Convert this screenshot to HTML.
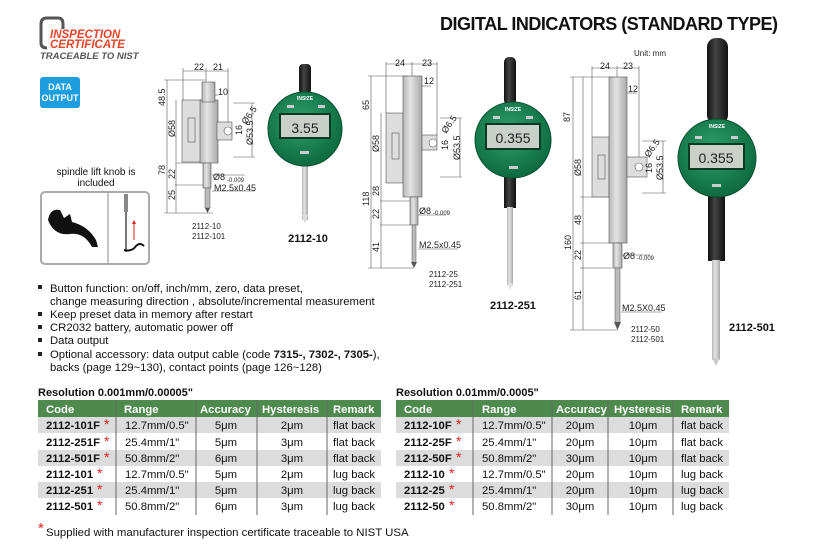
<!DOCTYPE html>
<html><head><meta charset="utf-8"><style>
html,body{margin:0;padding:0;background:#fff}
svg{display:block}
text{font-family:"Liberation Sans",Arial,sans-serif}
</style></head><body>
<svg width="816" height="548" viewBox="0 0 816 548" xmlns="http://www.w3.org/2000/svg">
<defs>
<linearGradient id="met" x1="0" x2="1"><stop offset="0" stop-color="#b8b8b8"/><stop offset=".4" stop-color="#e4e4e4"/><stop offset="1" stop-color="#a8a8a8"/></linearGradient>
<linearGradient id="blk" x1="0" x2="1"><stop offset="0" stop-color="#111"/><stop offset=".4" stop-color="#444"/><stop offset="1" stop-color="#111"/></linearGradient>
<radialGradient id="grn" cx=".45" cy=".4" r=".6"><stop offset="0" stop-color="#2fa06a"/><stop offset="1" stop-color="#0d6a40"/></radialGradient>
</defs>

<!-- Logo -->
<path d="M41 44 V24 Q41 18 47 18 H58 Q63 18 63 24 V29" fill="none" stroke="#555" stroke-width="3"/>
<path d="M41 40 V43 Q41 48 47 48" fill="none" stroke="#555" stroke-width="3"/>
<text x="50" y="38" font-size="11.5" font-weight="bold" font-style="italic" fill="#e8452a">INSPECTION</text>
<text x="50" y="48" font-size="11.5" font-weight="bold" font-style="italic" fill="#e8452a">CERTIFICATE</text>
<text x="40" y="59" font-size="9.5" font-weight="bold" font-style="italic" fill="#555">TRACEABLE TO NIST</text>
<rect x="40" y="77" width="40" height="31" rx="3" fill="#1e9de0"/>
<text x="60" y="90" font-size="9" font-weight="bold" fill="#fff" text-anchor="middle">DATA</text>
<text x="60" y="101" font-size="9" font-weight="bold" fill="#fff" text-anchor="middle">OUTPUT</text>

<text x="440" y="30" font-size="18" font-weight="bold" fill="#111" textLength="338">DIGITAL INDICATORS (STANDARD TYPE)</text>
<text x="634" y="56" font-size="8" fill="#222">Unit: mm</text>

<!-- spindle lift knob -->
<text x="96" y="175" font-size="10" fill="#111" text-anchor="middle">spindle lift knob is</text>
<text x="96" y="186" font-size="10" fill="#111" text-anchor="middle">included</text>
<rect x="41" y="192" width="108" height="72" rx="4" fill="#fff" stroke="#aaa" stroke-width="2"/>
<line x1="108" y1="193" x2="108" y2="263" stroke="#888"/>
<path d="M48 220 Q50 208 60 210 L64 218 L70 214 L72 222 Q88 226 96 240 L98 247 L92 247 Q84 232 70 234 Q54 236 48 220Z" fill="#111"/>
<rect x="124" y="194" width="4" height="18" fill="#888"/>
<rect x="125" y="212" width="2" height="40" fill="#777"/>
<line x1="134" y1="240" x2="134" y2="222" stroke="#d22" stroke-width="1"/>
<path d="M132 224 L134 220 L136 224Z" fill="#d22"/>
<path d="M124 250 Q132 252 136 246 Q140 242 144 246" fill="none" stroke="#111" stroke-width="2"/>

<!-- Drawing 1 -->
<g stroke="#555" stroke-width=".6" fill="none">
<line x1="167" y1="80" x2="167" y2="213"/><line x1="176" y1="100" x2="176" y2="162"/>
<line x1="176" y1="163" x2="176" y2="213"/><line x1="164" y1="80" x2="205" y2="80"/>
<line x1="164" y1="213" x2="213" y2="213"/><line x1="175" y1="163" x2="204" y2="163"/><line x1="175" y1="185" x2="204" y2="185"/>
<line x1="183" y1="71" x2="228" y2="71"/><line x1="183" y1="68" x2="183" y2="100"/><line x1="206" y1="68" x2="206" y2="84"/><line x1="228" y1="68" x2="228" y2="125"/>
<line x1="233" y1="103" x2="255" y2="103"/><line x1="233" y1="157" x2="255" y2="157"/><line x1="252" y1="103" x2="252" y2="157"/>
<line x1="210" y1="95" x2="218" y2="95"/><line x1="212" y1="175" x2="245" y2="175"/><line x1="212" y1="191" x2="255" y2="191"/>
</g>
<rect x="182" y="100" width="19" height="62" fill="#ddd" stroke="#555" stroke-width=".6"/>
<rect x="188" y="118" width="7" height="24" fill="none" stroke="#555" stroke-width=".6"/>
<rect x="200" y="100" width="18" height="63" fill="url(#met)" stroke="#555" stroke-width=".6"/>
<rect x="202" y="82" width="13" height="20" fill="url(#met)" stroke="#555" stroke-width=".6"/>
<rect x="217" y="122" width="15" height="18" fill="#ddd" stroke="#555" stroke-width=".6"/>
<circle cx="228" cy="131" r="4" fill="#fff" stroke="#555" stroke-width=".6"/>
<rect x="203" y="163" width="8" height="25" fill="url(#met)" stroke="#555" stroke-width=".6"/>
<rect x="205" y="188" width="5" height="20" fill="#bbb" stroke="#555" stroke-width=".5"/>
<path d="M205 208 L210 208 L207.5 213Z" fill="#555"/>
<g font-size="9" fill="#222">
<text x="194" y="70">22</text><text x="213" y="70">21</text><text x="218" y="95">10</text>
<text x="213" y="180">Ø8</text><text x="227" y="182" font-size="6">-0.009</text><text x="214" y="191">M2.5x0.45</text>
<text x="165" y="106" transform="rotate(-90 165 106)">48.5</text>
<text x="175" y="137" transform="rotate(-90 175 137)">Ø58</text>
<text x="165" y="175" transform="rotate(-90 165 175)">78</text>
<text x="175" y="179" transform="rotate(-90 175 179)">22</text>
<text x="175" y="200" transform="rotate(-90 175 200)">25</text>
<text x="246" y="125" transform="rotate(-55 246 125)">Ø6.5</text>
<text x="242" y="135" transform="rotate(-90 242 135)">16</text>
<text x="253" y="145" transform="rotate(-90 253 145)">Ø53.5</text>
</g>
<text x="192" y="229" font-size="8" fill="#222">2112-10</text>
<text x="192" y="239" font-size="8" fill="#222">2112-101</text>

<!-- Dial 1 -->
<rect x="299" y="64" width="12" height="30" rx="4" fill="url(#blk)"/>
<rect x="302" y="160" width="6" height="60" fill="url(#met)"/>
<path d="M302 215 L308 215 L305 224Z" fill="#ddd"/>
<circle cx="305" cy="129" r="37" fill="url(#grn)" stroke="#0a5030" stroke-width="1"/>
<rect x="279" y="113" width="52" height="26" fill="#0a3a22"/>
<rect x="281" y="115" width="48" height="22" fill="#c8d0c8"/>
<text x="305" y="133" font-size="14" fill="#222" text-anchor="middle">3.55</text>
<rect x="287" y="105" width="7" height="3" fill="#ccc"/><rect x="318" y="105" width="7" height="3" fill="#ccc"/>
<rect x="300" y="151" width="9" height="3" fill="#ccc"/>
<text x="305" y="100" font-size="5" fill="#fff" text-anchor="middle" font-weight="bold">INSIZE</text>
<text x="308" y="242" font-size="11" font-weight="bold" fill="#111" text-anchor="middle">2112-10</text>

<!-- Drawing 2 -->
<g stroke="#555" stroke-width=".6" fill="none">
<line x1="371" y1="76" x2="371" y2="268"/><line x1="381" y1="113" x2="381" y2="183"/><line x1="381" y1="183" x2="381" y2="268"/>
<line x1="368" y1="76" x2="408" y2="76"/><line x1="368" y1="268" x2="414" y2="268"/>
<line x1="380" y1="201" x2="410" y2="201"/><line x1="380" y1="225" x2="410" y2="225"/>
<line x1="386" y1="64" x2="437" y2="64"/><line x1="386" y1="62" x2="386" y2="113"/><line x1="412" y1="62" x2="412" y2="80"/><line x1="437" y1="62" x2="437" y2="135"/>
<line x1="440" y1="118" x2="462" y2="118"/><line x1="440" y1="177" x2="462" y2="177"/><line x1="460" y1="118" x2="460" y2="177"/>
<line x1="418" y1="86" x2="431" y2="86"/><line x1="418" y1="215" x2="446" y2="215"/><line x1="418" y1="249" x2="458" y2="249"/>
</g>
<rect x="386" y="113" width="17" height="70" fill="#ddd" stroke="#555" stroke-width=".6"/>
<rect x="392" y="133" width="7" height="26" fill="none" stroke="#555" stroke-width=".6"/>
<rect x="403" y="76" width="19" height="121" fill="url(#met)" stroke="#555" stroke-width=".6"/>
<rect x="422" y="135" width="15" height="15" fill="#ddd" stroke="#555" stroke-width=".6"/>
<circle cx="433" cy="143" r="4" fill="#fff" stroke="#555" stroke-width=".6"/>
<rect x="410" y="197" width="8" height="28" fill="url(#met)" stroke="#555" stroke-width=".6"/>
<rect x="412" y="225" width="4" height="38" fill="#bbb" stroke="#555" stroke-width=".5"/>
<path d="M411 262 L417 262 L414 268Z" fill="#555"/>
<g font-size="9" fill="#222">
<text x="395" y="66">24</text><text x="422" y="66">23</text><text x="424" y="84">12</text>
<text x="419" y="214">Ø8</text><text x="433" y="215" font-size="6">-0.009</text><text x="419" y="248">M2.5x0.45</text>
<text x="369" y="110" transform="rotate(-90 369 110)">65</text>
<text x="379" y="152" transform="rotate(-90 379 152)">Ø58</text>
<text x="379" y="196" transform="rotate(-90 379 196)">28</text>
<text x="369" y="206" transform="rotate(-90 369 206)">118</text>
<text x="379" y="219" transform="rotate(-90 379 219)">22</text>
<text x="379" y="252" transform="rotate(-90 379 252)">41</text>
<text x="446" y="134" transform="rotate(-55 446 134)">Ø6.5</text>
<text x="448" y="150" transform="rotate(-90 448 150)">16</text>
<text x="460" y="160" transform="rotate(-90 460 160)">Ø53.5</text>
</g>
<text x="429" y="277" font-size="8" fill="#222">2112-25</text>
<text x="429" y="287" font-size="8" fill="#222">2112-251</text>

<!-- Dial 2 -->
<rect x="504" y="57" width="12" height="48" rx="5" fill="url(#blk)"/>
<rect x="504" y="175" width="12" height="33" fill="url(#blk)"/>
<rect x="507" y="207" width="6" height="78" fill="url(#met)"/>
<path d="M507 283 L513 283 L510 290Z" fill="#ddd"/>
<circle cx="513" cy="140" r="38" fill="url(#grn)" stroke="#0a5030" stroke-width="1"/>
<rect x="485" y="123" width="56" height="27" fill="#0a3a22"/>
<rect x="487" y="125" width="52" height="23" fill="#c8d0c8"/>
<text x="513" y="143" font-size="14" fill="#222" text-anchor="middle">0.355</text>
<rect x="493" y="116" width="7" height="3" fill="#ccc"/><rect x="526" y="116" width="7" height="3" fill="#ccc"/>
<rect x="509" y="166" width="9" height="3" fill="#ccc"/>
<text x="513" y="111" font-size="5" fill="#fff" text-anchor="middle" font-weight="bold">INSIZE</text>
<text x="513" y="309" font-size="11" font-weight="bold" fill="#111" text-anchor="middle">2112-251</text>

<!-- Drawing 3 -->
<g stroke="#555" stroke-width=".6" fill="none">
<line x1="573" y1="77" x2="573" y2="330"/><line x1="583" y1="77" x2="583" y2="330"/>
<line x1="570" y1="77" x2="614" y2="77"/><line x1="570" y1="330" x2="618" y2="330"/>
<line x1="580" y1="197" x2="610" y2="197"/><line x1="580" y1="243" x2="612" y2="243"/><line x1="580" y1="268" x2="612" y2="268"/>
<line x1="592" y1="68" x2="639" y2="68"/><line x1="592" y1="66" x2="592" y2="137"/><line x1="617" y1="66" x2="617" y2="80"/><line x1="639" y1="66" x2="639" y2="160"/>
<line x1="642" y1="141" x2="666" y2="141"/><line x1="642" y1="193" x2="666" y2="193"/><line x1="663" y1="141" x2="663" y2="193"/>
<line x1="623" y1="93" x2="637" y2="93"/><line x1="622" y1="255" x2="650" y2="255"/><line x1="621" y1="312" x2="662" y2="312"/>
</g>
<rect x="592" y="137" width="17" height="60" fill="#ddd" stroke="#555" stroke-width=".6"/>
<rect x="598" y="155" width="7" height="24" fill="none" stroke="#555" stroke-width=".6"/>
<rect x="609" y="77" width="18" height="166" fill="url(#met)" stroke="#555" stroke-width=".6"/>
<rect x="627" y="157" width="20" height="20" fill="#ddd" stroke="#555" stroke-width=".6"/>
<circle cx="639" cy="167" r="4" fill="#fff" stroke="#555" stroke-width=".6"/>
<rect x="613" y="243" width="9" height="25" fill="url(#met)" stroke="#555" stroke-width=".6"/>
<rect x="615" y="268" width="5" height="55" fill="#bbb" stroke="#555" stroke-width=".5"/>
<path d="M614 322 L621 322 L617.5 330Z" fill="#555"/>
<g font-size="9" fill="#222">
<text x="600" y="69">24</text><text x="623" y="69">23</text><text x="628" y="92">12</text>
<text x="623" y="259">Ø8</text><text x="637" y="260" font-size="6">-0.009</text><text x="622" y="311">M2.5X0.45</text>
<text x="570" y="122" transform="rotate(-90 570 122)">87</text>
<text x="581" y="176" transform="rotate(-90 581 176)">Ø58</text>
<text x="581" y="225" transform="rotate(-90 581 225)">48</text>
<text x="571" y="250" transform="rotate(-90 571 250)">160</text>
<text x="581" y="260" transform="rotate(-90 581 260)">22</text>
<text x="581" y="300" transform="rotate(-90 581 300)">61</text>
<text x="649" y="158" transform="rotate(-55 649 158)">Ø6.5</text>
<text x="652" y="173" transform="rotate(-90 652 173)">16</text>
<text x="663" y="180" transform="rotate(-90 663 180)">Ø53.5</text>
</g>
<text x="631" y="332" font-size="8" fill="#222">2112-50</text>
<text x="631" y="342" font-size="8" fill="#222">2112-501</text>

<!-- Dial 3 -->
<rect x="707" y="38" width="21" height="86" rx="9" fill="url(#blk)"/>
<rect x="708" y="195" width="17" height="66" fill="url(#blk)"/>
<rect x="712" y="260" width="8" height="100" fill="url(#met)"/>
<path d="M712 358 L720 358 L716 366Z" fill="#ccc"/>
<circle cx="717" cy="158" r="39" fill="url(#grn)" stroke="#0a5030" stroke-width="1"/>
<rect x="688" y="143" width="57" height="27" fill="#0a3a22"/>
<rect x="690" y="145" width="53" height="23" fill="#c8d0c8"/>
<text x="716" y="163" font-size="14" fill="#222" text-anchor="middle">0.355</text>
<rect x="695" y="136" width="7" height="3" fill="#ccc"/><rect x="731" y="136" width="7" height="3" fill="#ccc"/>
<rect x="712" y="184" width="9" height="3" fill="#ccc"/>
<text x="717" y="128" font-size="5" fill="#fff" text-anchor="middle" font-weight="bold">INSIZE</text>
<text x="752" y="331" font-size="11" font-weight="bold" fill="#111" text-anchor="middle">2112-501</text>

<!-- bullets -->
<g font-size="11.3" fill="#111">
<rect x="38" y="285" width="4" height="4" fill="#222"/><text x="50" y="292">Button function: on/off, inch/mm, zero, data preset,</text>
<text x="50" y="305">change measuring direction , absolute/incremental measurement</text>
<rect x="38" y="312" width="4" height="4" fill="#222"/><text x="50" y="318">Keep preset data in memory after restart</text>
<rect x="38" y="325" width="4" height="4" fill="#222"/><text x="50" y="331">CR2032 battery, automatic power off</text>
<rect x="38" y="338" width="4" height="4" fill="#222"/><text x="50" y="344">Data output</text>
<rect x="38" y="352" width="4" height="4" fill="#222"/><text x="50" y="358">Optional accessory: data output cable (code <tspan font-weight="bold">7315-, 7302-, 7305-</tspan>),</text>
<text x="50" y="371">backs (page 129~130), contact points (page 126~128)</text>
</g>

<!-- Tables -->
<text x="38" y="396" font-size="11" font-weight="bold" fill="#111">Resolution 0.001mm/0.00005"</text>
<text x="396" y="396" font-size="11" font-weight="bold" fill="#111">Resolution 0.01mm/0.0005"</text>

<g>
<rect x="38" y="400" width="343" height="17" fill="#4e8a4e"/>
<rect x="38" y="417" width="343" height="16" fill="#dcdcdc"/>
<rect x="38" y="450" width="343" height="16" fill="#dcdcdc"/>
<rect x="38" y="482" width="343" height="16" fill="#dcdcdc"/>
<g stroke="#666" stroke-width="1"><line x1="116" y1="400" x2="116" y2="515"/><line x1="196" y1="400" x2="196" y2="515"/><line x1="257" y1="400" x2="257" y2="515"/><line x1="327" y1="400" x2="327" y2="515"/></g>
<g font-size="11.3" font-weight="bold" fill="#fff"><text x="46" y="413">Code</text><text x="124" y="413">Range</text><text x="200" y="413">Accuracy</text><text x="262" y="413">Hysteresis</text><text x="333" y="413">Remark</text></g>
<g font-size="11.3" fill="#111">
<g font-weight="bold"><text x="46" y="429">2112-101F</text><text x="46" y="446">2112-251F</text><text x="46" y="462">2112-501F</text><text x="46" y="478">2112-101</text><text x="46" y="494">2112-251</text><text x="46" y="510">2112-501</text></g>
<g fill="#e02020" font-size="14"><text x="104" y="429">*</text><text x="104" y="446">*</text><text x="104" y="462">*</text><text x="97" y="478">*</text><text x="97" y="494">*</text><text x="97" y="510">*</text></g>
<text x="125" y="429">12.7mm/0.5"</text><text x="125" y="446">25.4mm/1"</text><text x="125" y="462">50.8mm/2"</text><text x="125" y="478">12.7mm/0.5"</text><text x="125" y="494">25.4mm/1"</text><text x="125" y="510">50.8mm/2"</text>
<g text-anchor="middle"><text x="226" y="429">5μm</text><text x="226" y="446">5μm</text><text x="226" y="462">6μm</text><text x="226" y="478">5μm</text><text x="226" y="494">5μm</text><text x="226" y="510">6μm</text>
<text x="292" y="429">2μm</text><text x="292" y="446">3μm</text><text x="292" y="462">3μm</text><text x="292" y="478">2μm</text><text x="292" y="494">3μm</text><text x="292" y="510">3μm</text></g>
<text x="333" y="429">flat back</text><text x="333" y="446">flat back</text><text x="333" y="462">flat back</text><text x="333" y="478">lug back</text><text x="333" y="494">lug back</text><text x="333" y="510">lug back</text>
</g>
</g>

<g>
<rect x="396" y="400" width="333" height="17" fill="#4e8a4e"/>
<rect x="396" y="417" width="333" height="16" fill="#dcdcdc"/>
<rect x="396" y="450" width="333" height="16" fill="#dcdcdc"/>
<rect x="396" y="482" width="333" height="16" fill="#dcdcdc"/>
<g stroke="#666" stroke-width="1"><line x1="473" y1="400" x2="473" y2="515"/><line x1="552" y1="400" x2="552" y2="515"/><line x1="608" y1="400" x2="608" y2="515"/><line x1="673" y1="400" x2="673" y2="515"/></g>
<g font-size="11.3" font-weight="bold" fill="#fff"><text x="404" y="413">Code</text><text x="482" y="413">Range</text><text x="556" y="413">Accuracy</text><text x="614" y="413">Hysteresis</text><text x="681" y="413">Remark</text></g>
<g font-size="11.3" fill="#111">
<g font-weight="bold"><text x="404" y="429">2112-10F</text><text x="404" y="446">2112-25F</text><text x="404" y="462">2112-50F</text><text x="404" y="478">2112-10</text><text x="404" y="494">2112-25</text><text x="404" y="510">2112-50</text></g>
<g fill="#e02020" font-size="14"><text x="456" y="429">*</text><text x="456" y="446">*</text><text x="456" y="462">*</text><text x="449" y="478">*</text><text x="449" y="494">*</text><text x="449" y="510">*</text></g>
<text x="482" y="429">12.7mm/0.5"</text><text x="482" y="446">25.4mm/1"</text><text x="482" y="462">50.8mm/2"</text><text x="482" y="478">12.7mm/0.5"</text><text x="482" y="494">25.4mm/1"</text><text x="482" y="510">50.8mm/2"</text>
<g text-anchor="middle"><text x="580" y="429">20μm</text><text x="580" y="446">20μm</text><text x="580" y="462">30μm</text><text x="580" y="478">20μm</text><text x="580" y="494">20μm</text><text x="580" y="510">30μm</text>
<text x="643" y="429">10μm</text><text x="643" y="446">10μm</text><text x="643" y="462">10μm</text><text x="643" y="478">10μm</text><text x="643" y="494">10μm</text><text x="643" y="510">10μm</text></g>
<text x="681" y="429">flat back</text><text x="681" y="446">flat back</text><text x="681" y="462">flat back</text><text x="681" y="478">lug back</text><text x="681" y="494">lug back</text><text x="681" y="510">lug back</text>
</g>
</g>

<text x="38" y="533" font-size="15" fill="#e02020">*</text>
<text x="46" y="536" font-size="11.4" fill="#111">Supplied with manufacturer inspection certificate traceable to NIST USA</text>
</svg>
</body></html>
